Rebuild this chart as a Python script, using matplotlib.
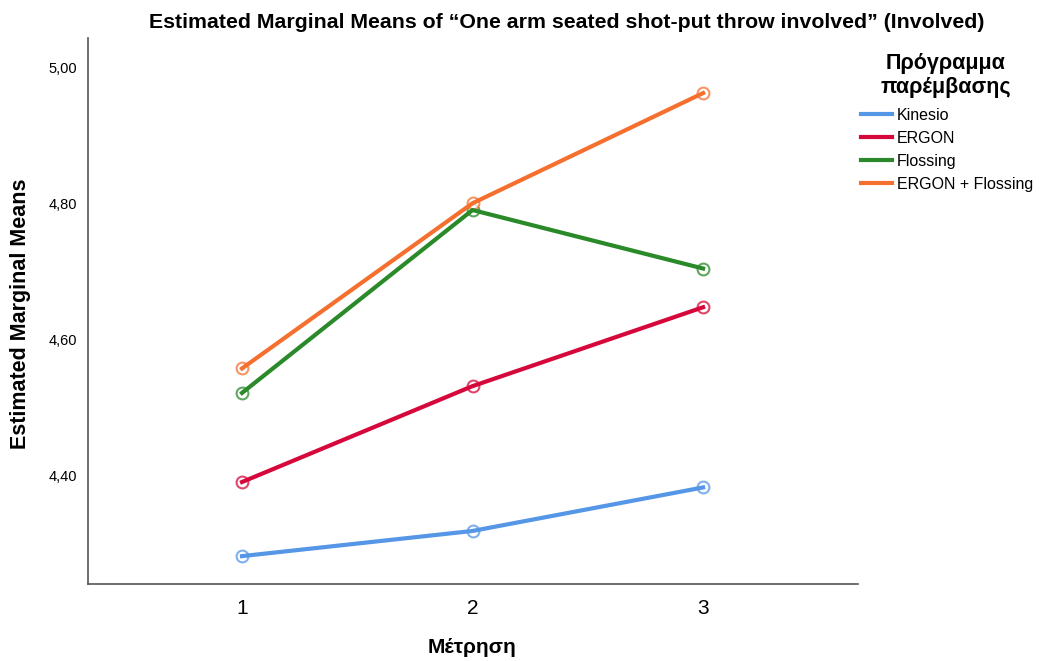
import matplotlib.pyplot as plt
from matplotlib.lines import Line2D

# data
measurements = [1, 2, 3]
groups = ["Kinesio", "ERGON", "Flossing", "ERGON + Flossing"]
kinesio = [4.281, 4.318, 4.382]
ergon = [4.390, 4.531, 4.647]
flossing = [4.521, 4.790, 4.704]
ergon_flossing = [4.557, 4.800, 4.962]
colors = ["#5596E6", "#D6083B", "#2A8A2A", "#F5702F"]
yticks = [4.40, 4.60, 4.80, 5.00]

plt.rcParams['font.family'] = ['Liberation Sans', 'DejaVu Sans']

fig = plt.figure(figsize=(10.53, 6.61), dpi=100)
ax = fig.add_axes([0.0836, 0.1165, 0.7312, 0.826])

series = [kinesio, ergon, flossing, ergon_flossing]
for vals, col in zip(series, colors):
    ax.plot(measurements, vals, ls='none', marker='o', ms=8.5, mfc='white',
            mec=col, mew=1.5, alpha=0.75, zorder=2)
    ax.plot(measurements, vals, color=col, lw=3, zorder=3)

ax.set_xlim(0.332, 3.672)
ax.set_ylim(4.24, 5.043)
ax.set_xticks(measurements)
ax.set_xticklabels([str(m) for m in measurements], fontsize=15)
ax.set_yticks(yticks)
ax.set_yticklabels([f"{v:.2f}".replace('.', ',') for v in yticks], fontsize=10.5)
ax.tick_params(axis='x', length=0, pad=11)
ax.tick_params(axis='y', length=0, pad=8)
for s in ['top', 'right']:
    ax.spines[s].set_visible(False)
for s in ['left', 'bottom']:
    ax.spines[s].set_color('#555555')
    ax.spines[s].set_linewidth(1.2)

fig.text(0.538, 0.966, "Estimated Marginal Means of \u201cOne arm seated shot-put throw involved\u201d (Involved)",
         ha='center', va='center', fontsize=15.3, fontweight='bold')
fig.text(0.019, 0.525, "Estimated Marginal Means", rotation=90, ha='center', va='center',
         fontsize=15.5, fontweight='bold')
fig.text(0.448, 0.020, "Μέτρηση", ha='center', va='center', fontsize=15, fontweight='bold')
fig.text(0.898, 0.886, "Πρόγραμμα\nπαρέμβασης", ha='center', va='center',
         fontsize=15.5, fontweight='bold', linespacing=1.15)

handles = [Line2D([0], [0], color=c, lw=3) for c in colors]
leg = fig.legend(handles, groups, loc='upper left',
                 bbox_to_anchor=(0.8175, 0.837), frameon=False, fontsize=11.5,
                 handlelength=1.95, handletextpad=0.3, labelspacing=0.5,
                 borderpad=0, borderaxespad=0)

fig.savefig("out.png", dpi=100)
